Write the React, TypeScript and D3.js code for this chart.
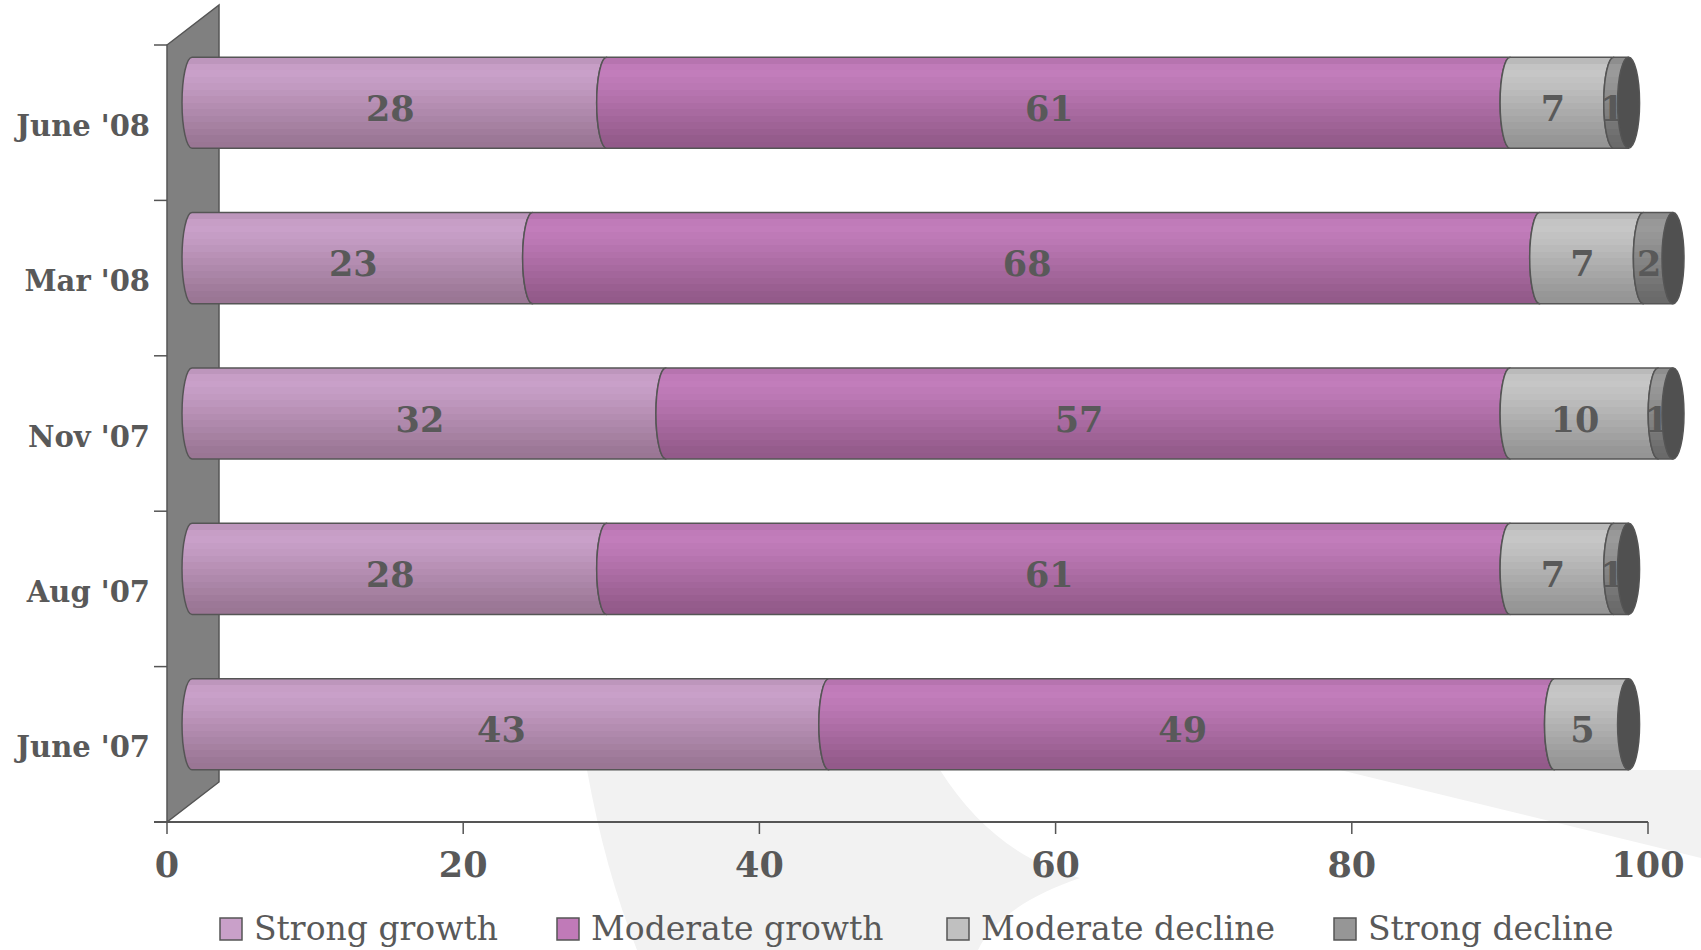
import React from "react";
import * as d3 from "d3";

const categories = ["June '08", "Mar '08", "Nov '07", "Aug '07", "June '07"];
const strongGrowth = [28, 23, 32, 28, 43];
const moderateGrowth = [61, 68, 57, 61, 49];
const moderateDecline = [7, 7, 10, 7, 5];
const strongDecline = [1, 2, 1, 1, 0];
const seriesNames = ["Strong growth", "Moderate growth", "Moderate decline", "Strong decline"];
const xTicks = [0, 20, 40, 60, 80, 100];

const W = 1701;
const H = 950;
const TEXT = "#595959";
const LINE = "#555555";

const seriesTop = ["#c9a0c9", "#c27dbb", "#c6c6c6", "#9a9a9a"];
const seriesBottom = ["#9a7694", "#935a8a", "#959595", "#6a6a6a"];
const legendFill = ["#c9a0c9", "#c07ab8", "#c0c0c0", "#969696"];
const legendX = [220, 557, 947, 1334];
const bandProfile = [0.25, 0.05, 0.0, 0.08, 0.15, 0.25, 0.35, 0.45, 0.55, 0.65, 0.75, 0.85, 0.95, 1.0];

export default function App() {
  const x = d3.scaleLinear().domain([0, 100]).range([167, 1648]);
  const y = d3.scaleBand<string>().domain(categories).range([45, 822]);
  const depthX = 52;
  const depthY = -40;
  const offX = 25;
  const offY = depthY / 2;
  const r = (y.bandwidth() * 0.586) / 2;
  const rx = 10;
  const series = [strongGrowth, moderateGrowth, moderateDecline, strongDecline];

  const stack = d3
    .stack<number>()
    .keys([0, 1, 2, 3] as any)
    .value((i: number, k: any) => series[k][i]);
  const stacked = stack(categories.map((_, i) => i) as any);

  const segPath = (v0: number, v1: number, cy: number) => {
    const x0 = x(v0) + offX;
    const x1 = x(v1) + offX;
    const t = cy - r;
    const b = cy + r;
    return `M${x0},${t} L${x1},${t} A${rx},${r} 0 0 0 ${x1},${b} L${x0},${b} A${rx},${r} 0 0 1 ${x0},${t} Z`;
  };

  const yTop = y.range()[0];
  const yBot = y.range()[1];
  const x0 = x(0);

  return (
    <svg width={W} height={H} style={{ position: "absolute", left: 0, top: 0, background: "#fff" }}>
      <defs>
        {seriesNames.map((_, si) => {
          const interp = d3.interpolateRgb(seriesTop[si], seriesBottom[si]);
          const n = bandProfile.length;
          const stops: any[] = [];
          bandProfile.forEach((k, bi) => {
            const c = interp(k);
            stops.push(<stop key={`a${bi}`} offset={bi / n} stopColor={c} />);
            stops.push(<stop key={`b${bi}`} offset={(bi + 1) / n} stopColor={c} />);
          });
          return (
            <linearGradient key={si} id={`g${si}`} x1="0" y1="0" x2="0" y2="1">
              {stops}
            </linearGradient>
          );
        })}
      </defs>

      {/* background swoosh */}
      <path d="M587,770 L940,770 C975,825 1020,862 1080,878 C1030,895 992,920 978,950 L637,950 Q605,870 587,770 Z" fill="#f2f2f2" />
      <path d="M1340,770 L1701,770 L1701,858 Z" fill="#f2f2f2" />

      {/* side wall */}
      <path
        d={`M${x0},${yTop} L${x0 + depthX},${yTop + depthY} L${x0 + depthX},${yBot + depthY} L${x0},${yBot} Z`}
        fill="#808080"
        stroke={LINE}
        strokeWidth={1.5}
      />

      {/* y ticks */}
      {categories.map((c, i) => (
        <line key={`yt${i}`} x1={x0 - 13} x2={x0} y1={y(c)!} y2={y(c)!} stroke={LINE} strokeWidth={1.5} />
      ))}
      <line x1={x0 - 13} x2={x0} y1={yBot} y2={yBot} stroke={LINE} strokeWidth={1.5} />

      {/* x axis */}
      <line x1={x0 - 13} x2={x(100)} y1={yBot} y2={yBot} stroke={LINE} strokeWidth={2} />
      {xTicks.map((t) => (
        <g key={`xt${t}`}>
          <line x1={x(t)} x2={x(t)} y1={yBot} y2={yBot + 12} stroke={LINE} strokeWidth={1.5} />
          <text
            x={x(t)}
            y={877}
            textAnchor="middle"
            fontFamily="'DejaVu Serif', serif"
            fontWeight="bold"
            fontSize={35}
            fill={TEXT}
          >
            {t}
          </text>
        </g>
      ))}

      {/* category labels */}
      {categories.map((c) => (
        <text
          key={`cl${c}`}
          x={150}
          y={y(c)! + y.bandwidth() / 2 + 13}
          textAnchor="end"
          fontFamily="'DejaVu Serif', serif"
          fontWeight="bold"
          fontSize={29}
          fill={TEXT}
        >
          {c}
        </text>
      ))}

      {/* bars */}
      {categories.map((c, i) => {
        const cy = y(c)! + y.bandwidth() / 2 + offY;
        const total = stacked[stacked.length - 1][i][1];
        return (
          <g key={`bar${i}`}>
            {stacked.map((layer, si) => {
              const [a, b] = layer[i];
              if (b - a <= 0) return null;
              return (
                <path
                  key={`s${si}`}
                  d={segPath(a, b, cy)}
                  fill={`url(#g${si})`}
                  stroke={LINE}
                  strokeWidth={1.5}
                  strokeLinejoin="round"
                />
              );
            })}
            {stacked.map((layer, si) => {
              const [a, b] = layer[i];
              if (b - a <= 0) return null;
              return (
                <text
                  key={`l${si}`}
                  x={x((a + b) / 2) + offX - 9}
                  y={cy + 18}
                  textAnchor="middle"
                  fontFamily="'DejaVu Serif', serif"
                  fontWeight="bold"
                  fontSize={35}
                  fill={TEXT}
                >
                  {b - a}
                </text>
              );
            })}
            <ellipse cx={x(total) + offX} cy={cy} rx={11} ry={r} fill="#505050" stroke={LINE} strokeWidth={1.5} />
          </g>
        );
      })}

      {/* legend */}
      {seriesNames.map((n, si) => (
        <g key={`lg${si}`}>
          <rect x={legendX[si]} y={918} width={22} height={22} fill={legendFill[si]} stroke={LINE} strokeWidth={1.5} />
          <text
            x={legendX[si] + 34}
            y={940}
            fontFamily="'DejaVu Serif', serif"
            fontSize={33}
            fill={TEXT}
          >
            {n}
          </text>
        </g>
      ))}
    </svg>
  );
}
